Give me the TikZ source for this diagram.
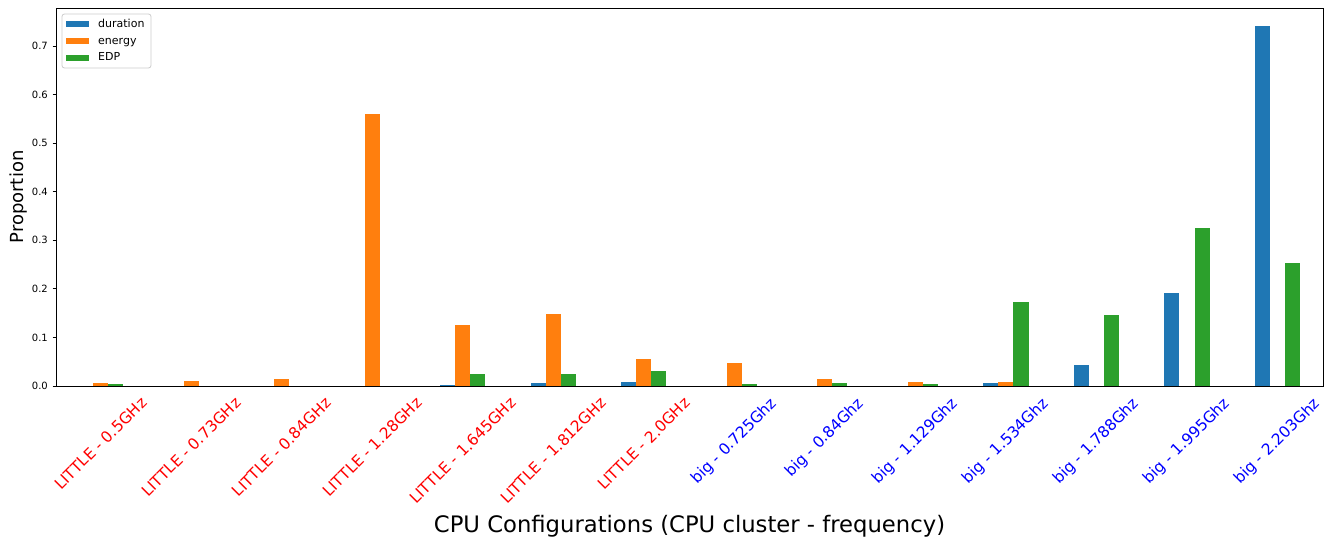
\documentclass[tikz,border=0pt]{standalone}
\usepackage{fontspec}
\setmainfont{DejaVu Sans}
\definecolor{tabblue}{HTML}{1F77B4}
\definecolor{taborange}{HTML}{FF7F0E}
\definecolor{tabgreen}{HTML}{2CA02C}
\definecolor{labred}{HTML}{FF0000}
\definecolor{labblue}{HTML}{0000FF}
\newcommand\xtfont{\fontsize{15.5}{18}\selectfont}
\newsavebox\xlabbox
% measure outside the picture: half the rotated box height
\newcommand\measurelab[2]{%
  \sbox\xlabbox{\xtfont #2}%
  \expandafter\xdef\csname xlabdy#1\endcsname{\the\dimexpr(\wd\xlabbox+\ht\xlabbox+\dp\xlabbox)*707/2000\relax}%
}
\newcommand\xlabtick[4]{%
  \pgfmathsetmacro\xlabc{100.6+90.53*#2}%
  \pgfmathsetmacro\xlabyy{144-\csname xlabdy#1\endcsname}%
  \node[xticklabel, text=#3] (#1) at (\xlabc,\xlabyy) {#4};
}
\begin{document}
\measurelab{xt0}{LITTLE - 0.5GHz}%
\measurelab{xt1}{LITTLE - 0.73GHz}%
\measurelab{xt2}{LITTLE - 0.84GHz}%
\measurelab{xt3}{LITTLE - 1.28GHz}%
\measurelab{xt4}{LITTLE - 1.645GHz}%
\measurelab{xt5}{LITTLE - 1.812GHz}%
\measurelab{xt6}{LITTLE - 2.0GHz}%
\measurelab{xt7}{big - 0.725Ghz}%
\measurelab{xt8}{big - 0.84Ghz}%
\measurelab{xt9}{big - 1.129Ghz}%
\measurelab{xt10}{big - 1.534Ghz}%
\measurelab{xt11}{big - 1.788Ghz}%
\measurelab{xt12}{big - 1.995Ghz}%
\measurelab{xt13}{big - 2.203Ghz}%
\begin{tikzpicture}[x=1pt,y=1pt,
  xticklabel/.style={rotate=45, inner sep=0pt, font=\xtfont},
  yticklabel/.style={anchor=east, inner sep=0pt, font=\fontsize{10}{12}\selectfont},
  legtext/.style={anchor=base west, inner sep=0pt, font=\fontsize{11}{13}\selectfont},
  frame/.style={line width=0.9pt, black}]
\useasboundingbox (0,0) rectangle (1330,540);
\fill[white] (0,0) rectangle (1330,540);
% bars
\foreach \i/\d/\e/\g in {
  0/0.001/0.006/0.004,
  1/0.0005/0.0103/0.001,
  2/0.0005/0.015/0.001,
  3/0.0005/0.560/0.001,
  4/0.002/0.126/0.025,
  5/0.0055/0.148/0.024,
  6/0.0076/0.0556/0.031,
  7/0.001/0.047/0.004,
  8/0.001/0.014/0.006,
  9/0.001/0.008/0.004,
  10/0.007/0.008/0.1736,
  11/0.044/0.0005/0.146,
  12/0.191/0.0003/0.3247,
  13/0.741/0.001/0.2526}{
  \pgfmathsetmacro\barc{100.6+90.53*\i}
  \fill[tabblue] ({\barc-22.63},154) rectangle ({\barc-7.54},{154+485.7*\d});
  \fill[taborange] ({\barc-7.54},154) rectangle ({\barc+7.54},{154+485.7*\e});
  \fill[tabgreen] ({\barc+7.54},154) rectangle ({\barc+22.63},{154+485.7*\g});
}
% frame
\draw[frame] (56,154) rectangle (1323,532);
% y ticks
\foreach \v in {0,...,7}{
  \draw[frame] (52.5,{154+48.57*\v}) -- (56,{154+48.57*\v});
  \node[yticklabel] (yt\v) at (48,{154+48.57*\v}) {0.\v};
}
% x tick labels
\xlabtick{xt0}{0}{labred}{LITTLE - 0.5GHz}
\xlabtick{xt1}{1}{labred}{LITTLE - 0.73GHz}
\xlabtick{xt2}{2}{labred}{LITTLE - 0.84GHz}
\xlabtick{xt3}{3}{labred}{LITTLE - 1.28GHz}
\xlabtick{xt4}{4}{labred}{LITTLE - 1.645GHz}
\xlabtick{xt5}{5}{labred}{LITTLE - 1.812GHz}
\xlabtick{xt6}{6}{labred}{LITTLE - 2.0GHz}
\xlabtick{xt7}{7}{labblue}{big - 0.725Ghz}
\xlabtick{xt8}{8}{labblue}{big - 0.84Ghz}
\xlabtick{xt9}{9}{labblue}{big - 1.129Ghz}
\xlabtick{xt10}{10}{labblue}{big - 1.534Ghz}
\xlabtick{xt11}{11}{labblue}{big - 1.788Ghz}
\xlabtick{xt12}{12}{labblue}{big - 1.995Ghz}
\xlabtick{xt13}{13}{labblue}{big - 2.203Ghz}
% axis labels
\node[rotate=90, anchor=base, inner sep=0pt, font=\fontsize{18}{22}\selectfont] (ylab) at (23,{540-197}) {Proportion};
\node[anchor=base, inner sep=0pt, font=\fontsize{22.7}{27}\selectfont] (xlab) at (689.5,{540-532.5}) {CPU Configurations (CPU cluster - frequency)};
% legend
\draw[rounded corners=2.5pt, draw=black!20, fill=white, line width=0.8pt] (62,{540-14}) rectangle (151,{540-68});
\fill[tabblue] (66,{540-21}) rectangle (89,{540-27});
\fill[taborange] (66,{540-38}) rectangle (89,{540-44});
\fill[tabgreen] (66,{540-55}) rectangle (89,{540-61});
\node[legtext] (leg1) at (98,{540-27.3}) {duration};
\node[legtext] (leg2) at (98,{540-44.2}) {energy};
\node[legtext] (leg3) at (98,{540-61}) {EDP};
\end{tikzpicture}
\end{document}
